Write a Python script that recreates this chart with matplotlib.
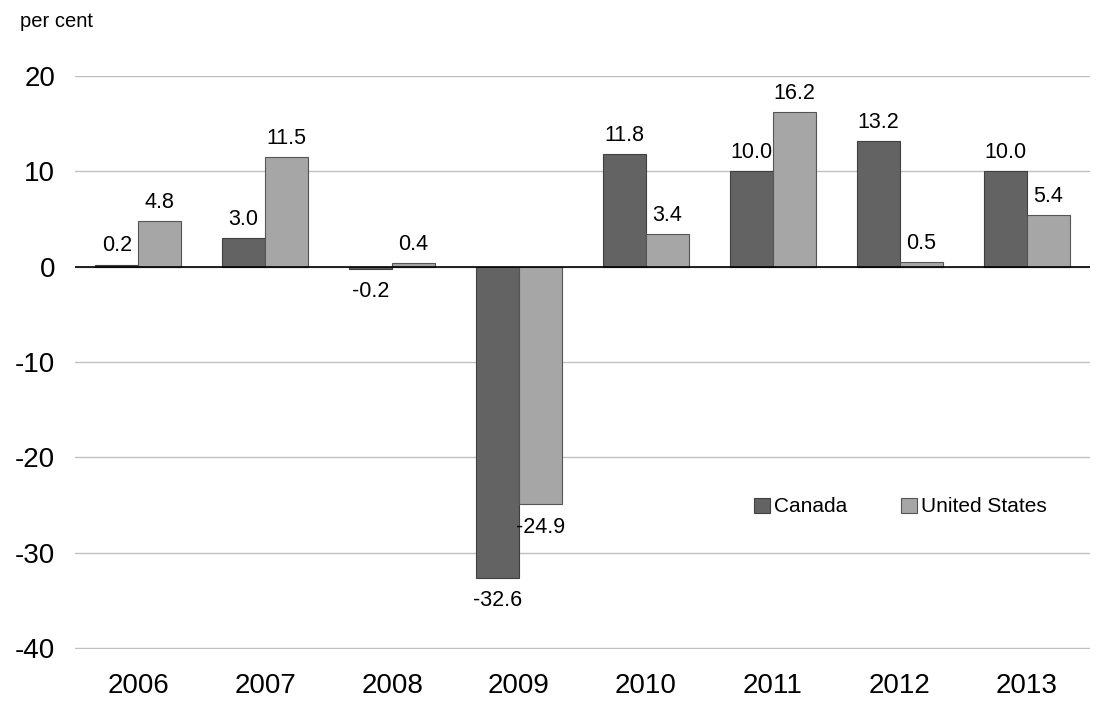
import matplotlib.pyplot as plt
import numpy as np

plt.rcParams['font.family'] = ['Liberation Sans', 'DejaVu Sans']
plt.rcParams['axes.unicode_minus'] = False

years = ["2006", "2007", "2008", "2009", "2010", "2011", "2012", "2013"]
canada = [0.2, 3.0, -0.2, -32.6, 11.8, 10.0, 13.2, 10.0]
united_states = [4.8, 11.5, 0.4, -24.9, 3.4, 16.2, 0.5, 5.4]
y_ticks = [20, 10, 0, -10, -20, -30, -40]

fig = plt.figure(figsize=(11, 7.08), dpi=100)
ax = fig.add_axes([0.068, 0.0833, 0.923, 0.8093])

x = np.arange(len(years))
w = 0.339
b1 = ax.bar(x - w / 2, canada, w, color="#636363", edgecolor="#404040",
            linewidth=0.8, label="Canada", zorder=3)
b2 = ax.bar(x + w / 2, united_states, w, color="#a6a6a6", edgecolor="#555555",
            linewidth=0.8, label="United States", zorder=3)

# data labels
for bars, vals in [(b1, canada), (b2, united_states)]:
    for rect, v in zip(bars, vals):
        cx = rect.get_x() + rect.get_width() / 2
        if v >= 0:
            ax.annotate(f"{v:.1f}", (cx, v), xytext=(0, 6), textcoords="offset points",
                        ha="center", va="bottom", fontsize=15.5)
        else:
            ax.annotate(f"{v:.1f}", (cx, v), xytext=(0, -9), textcoords="offset points",
                        ha="center", va="top", fontsize=15.5)

ax.set_xlim(-0.5, len(years) - 0.5)
ax.set_ylim(-40.1, 20)
ax.set_yticks(y_ticks)
ax.set_yticklabels([str(t) for t in y_ticks])
ax.set_xticks(x)
ax.set_xticklabels(years)
ax.tick_params(axis="both", length=0, labelsize=20)
ax.tick_params(axis="x", pad=17)
ax.tick_params(axis="y", pad=14)

ax.yaxis.grid(True, color="#c0c0c0", linewidth=1.0, zorder=0)
ax.set_axisbelow(True)
for s in ax.spines.values():
    s.set_visible(False)
ax.axhline(0, color="#000000", linewidth=1.2, zorder=4)

fig.text(0.018, 0.969, "per cent", fontsize=14.5, ha="left", va="center")

ax.legend(loc="center left", bbox_to_anchor=(0.669, 0.248), ncol=2, frameon=False,
          fontsize=15, handlelength=0.75, handleheight=0.75, handletextpad=0.2,
          columnspacing=2.6, borderaxespad=0, borderpad=0)

fig.savefig("out.png", dpi=100)
